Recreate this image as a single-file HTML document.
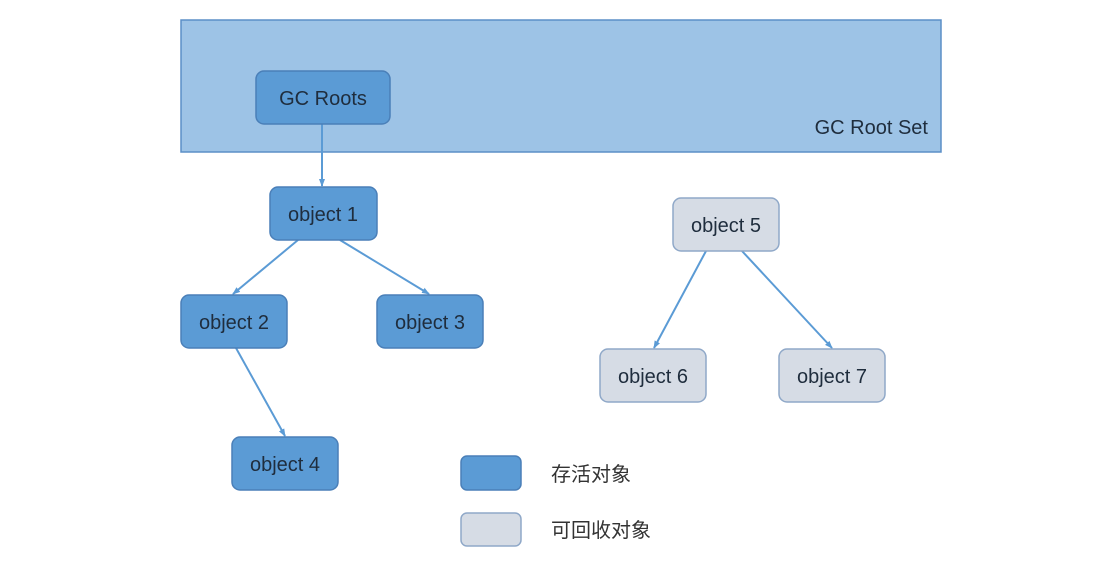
<!DOCTYPE html>
<html><head><meta charset="utf-8"><style>
html,body{margin:0;padding:0;background:#fff;}
svg text{font-family:"Liberation Sans","Noto Sans CJK SC",sans-serif;fill:#1f2d3d;}
</style></head><body>
<svg width="1094" height="583" viewBox="0 0 1094 583" xmlns="http://www.w3.org/2000/svg">
<defs>
<marker id="a" markerWidth="8" markerHeight="8" refX="7" refY="4" orient="auto" markerUnits="userSpaceOnUse">
<path d="M0,1 L8,4 L0,7 z" fill="#5b9bd5"/></marker>
</defs>
<rect x="181" y="20" width="760" height="132" fill="#9dc3e6" stroke="#5b8fc7" stroke-width="1.5"/>
<text x="928" y="134" font-size="20" text-anchor="end">GC Root Set</text>
<g stroke="#5b9bd5" stroke-width="2" marker-end="url(#a)">
<line x1="322" y1="124" x2="322" y2="186"/>
<line x1="298" y1="240" x2="233" y2="294"/>
<line x1="340" y1="240" x2="429" y2="294"/>
<line x1="236" y1="348" x2="285" y2="436"/>
<line x1="706" y1="251" x2="654" y2="348"/>
<line x1="742" y1="251" x2="832" y2="348"/>
</g>
<g fill="#5b9bd5" stroke="#4a7fb8" stroke-width="1.5">
<rect x="256" y="71" width="134" height="53" rx="8"/>
<rect x="270" y="187" width="107" height="53" rx="8"/>
<rect x="181" y="295" width="106" height="53" rx="8"/>
<rect x="377" y="295" width="106" height="53" rx="8"/>
<rect x="232" y="437" width="106" height="53" rx="8"/>
<rect x="461" y="456" width="60" height="34" rx="6"/>
</g>
<g fill="#d6dce5" stroke="#8fa8c8" stroke-width="1.5">
<rect x="673" y="198" width="106" height="53" rx="8"/>
<rect x="600" y="349" width="106" height="53" rx="8"/>
<rect x="779" y="349" width="106" height="53" rx="8"/>
<rect x="461" y="513" width="60" height="33" rx="6"/>
</g>
<g font-size="20" text-anchor="middle">
<text x="323" y="105">GC Roots</text>
<text x="323" y="221">object 1</text>
<text x="234" y="329">object 2</text>
<text x="430" y="329">object 3</text>
<text x="285" y="471">object 4</text>
<text x="726" y="232">object 5</text>
<text x="653" y="383">object 6</text>
<text x="832" y="383">object 7</text>
</g>
<text x="551" y="481" font-size="20" style="fill:#333">存活对象</text>
<text x="551" y="537" font-size="20" style="fill:#333">可回收对象</text>
</svg>
</body></html>
